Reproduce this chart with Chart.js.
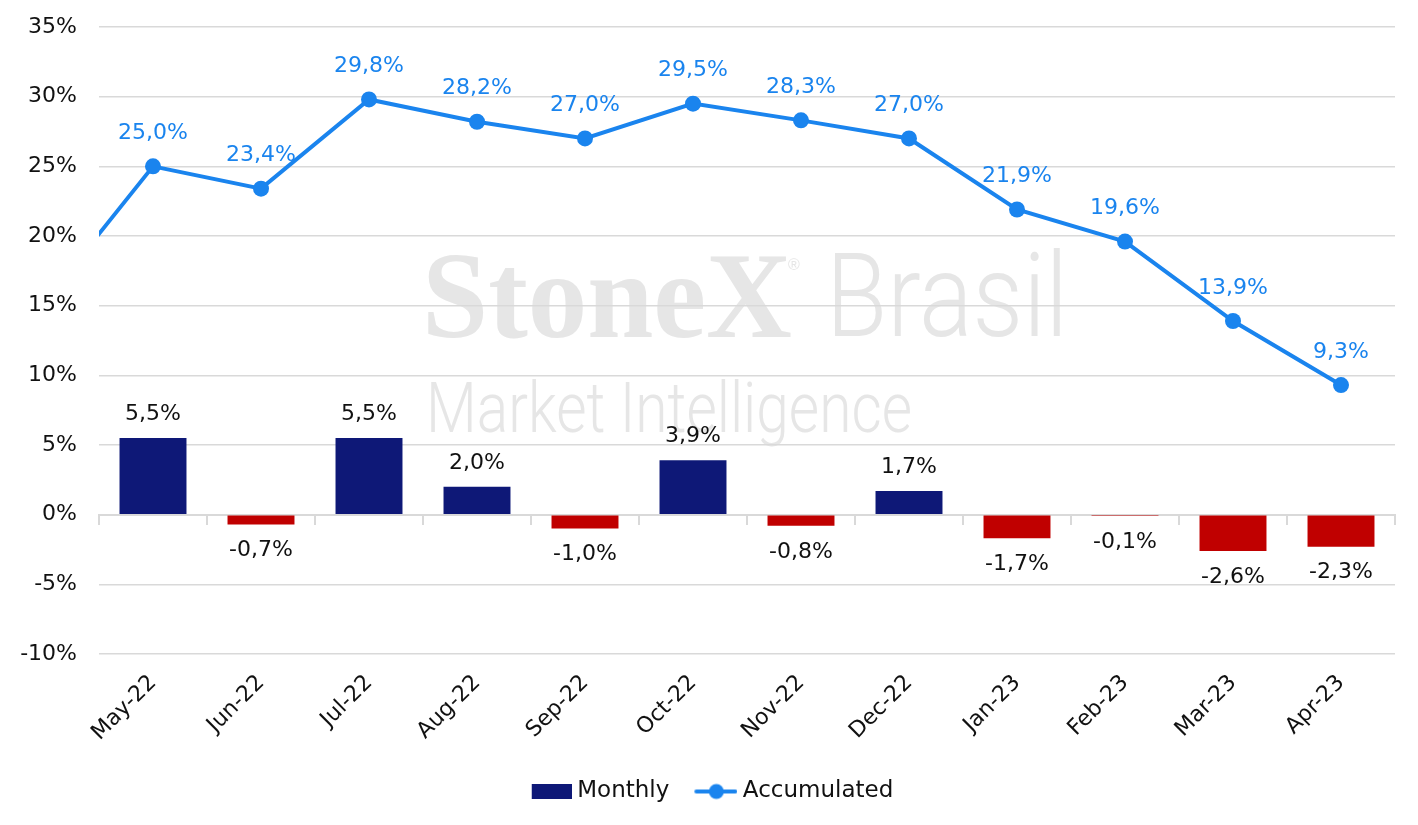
<!DOCTYPE html>
<html><head><meta charset="utf-8">
<script src="https://cdn.jsdelivr.net/npm/chart.js@4.4.0/dist/chart.umd.min.js"></script>
<style>html,body{margin:0;padding:0;background:#fff;} #wrap{width:1418px;height:825px;}</style>
</head><body><div id="wrap"><canvas id="c" width="1418" height="825"></canvas></div>
<script>
// Data (first category is the previous month, only partly visible at the left edge)
const categories = ['Apr-22','May-22','Jun-22','Jul-22','Aug-22','Sep-22','Oct-22','Nov-22','Dec-22','Jan-23','Feb-23','Mar-23','Apr-23'];
const monthly = [null, 5.5, -0.7, 5.5, 2.0, -1.0, 3.9, -0.8, 1.7, -1.7, -0.1, -2.6, -2.3];
const accumulated = [15.3, 25.0, 23.4, 29.8, 28.2, 27.0, 29.5, 28.3, 27.0, 21.9, 19.6, 13.9, 9.3];
const yMin = -10, yMax = 35, yStep = 5;
const seriesNames = ['Monthly', 'Accumulated'];

const NAVY = '#0E1877', RED = '#C00000', BLUE = '#1A84EE', GRID = '#D9D9D9';
const FONT = '"DejaVu Sans"';

const fmt = v => v.toFixed(1).replace('.', ',') + '%';

function boxImg() {
  const c = document.createElement('canvas'); c.width = 64; c.height = 15;
  const g = c.getContext('2d'); g.fillStyle = NAVY; g.fillRect(24, 0, 40, 15); return c;
}
function lineImg() {
  const c = document.createElement('canvas'); c.width = 64; c.height = 18;
  const g = c.getContext('2d');
  g.strokeStyle = BLUE; g.lineWidth = 4; g.lineCap = 'round';
  g.beginPath(); g.moveTo(23, 9); g.lineTo(62, 9); g.stroke();
  g.fillStyle = BLUE; g.beginPath(); g.arc(43, 9, 7.5, 0, Math.PI * 2); g.fill();
  return c;
}

const watermark = {
  id: 'watermark',
  beforeDraw(chart) {
    const ctx = chart.ctx;
    ctx.save();
    ctx.fillStyle = '#E6E6E6';
    ctx.textBaseline = 'alphabetic';
    ctx.textAlign = 'left';
    ctx.font = 'bold 122px "Liberation Serif"';
    ctx.fillText('StoneX', 422, 337, 370);
    ctx.font = '16px "Liberation Sans"';
    ctx.fillText('®', 788, 270);
    ctx.font = '300 116px Roboto';
    ctx.fillText('Brasil', 826, 336, 242);
    ctx.font = '300 70px Roboto';
    ctx.fillText('Market Intelligence', 426, 432, 486);
    ctx.restore();
  }
};

const legendShift = {
  id: 'legendShift',
  afterLayout(chart) {
    if (chart.legend) { chart.legend.left += 6; chart.legend.right += 6; }
  }
};

const valueLabels = {
  id: 'valueLabels',
  afterDatasetsDraw(chart) {
    const ctx = chart.ctx;
    const area = chart.chartArea;
    ctx.save();
    ctx.font = '22px ' + FONT;
    ctx.textAlign = 'center';
    ctx.textBaseline = 'middle';
    chart.data.datasets.forEach((ds, di) => {
      const meta = chart.getDatasetMeta(di);
      meta.data.forEach((el, i) => {
        const v = ds.data[i];
        if (v === null || el.x < area.left) return;
        if (ds.type === 'line') {
          ctx.fillStyle = BLUE;
          ctx.fillText(fmt(v), el.x, el.y - 33);
        } else {
          ctx.fillStyle = '#111';
          ctx.fillText(fmt(v), el.x, v >= 0 ? el.y - 24 : el.y + 26);
        }
      });
    });
    ctx.restore();
  }
};

new Chart(document.getElementById('c'), {
  data: {
    labels: categories,
    datasets: [
      {
        type: 'line', label: seriesNames[1], data: accumulated, order: 0,
        borderColor: BLUE, backgroundColor: BLUE, borderWidth: 4,
        pointRadius: 8, pointHoverRadius: 8, pointBackgroundColor: BLUE, pointBorderWidth: 0,
        tension: 0
      },
      {
        type: 'bar', label: seriesNames[0], data: monthly, order: 1,
        backgroundColor: monthly.map(v => (v !== null && v < 0) ? RED : NAVY),
        categoryPercentage: 1, barPercentage: 0.62
      }
    ]
  },
  options: {
    responsive: false, animation: false, devicePixelRatio: 1,
    layout: { padding: { top: 27, right: 23, left: 0, bottom: 12 } },
    scales: {
      x: {
        type: 'category', min: 'May-22', offset: true,
        grid: { display: false, offset: true },
        border: { display: false },
        ticks: { minRotation: 45, maxRotation: 45, color: '#111', font: { family: FONT, size: 22 }, padding: 8, autoSkip: false },
        afterFit: s => { s.height = 116; s.paddingLeft = 0; s.paddingRight = 0; }
      },
      x0: {
        type: 'category', min: 'May-22', offset: true, position: { y: 0 },
        ticks: { display: false },
        grid: { display: true, offset: true, drawOnChartArea: false, drawTicks: true, tickLength: 9, color: GRID, lineWidth: 2 },
        border: { display: true, color: GRID, width: 2 }
      },
      y: {
        min: yMin, max: yMax,
        ticks: { stepSize: yStep, color: '#111', font: { family: FONT, size: 22 }, padding: 22, callback: v => v + '%' },
        grid: { color: GRID, lineWidth: 1.5, drawTicks: false },
        border: { display: false },
        afterFit: s => { s.width = 99; s.paddingTop = 0; s.paddingBottom = 0; }
      }
    },
    plugins: {
      tooltip: { enabled: false },
      legend: {
        position: 'bottom',
        labels: {
          usePointStyle: true, pointStyleWidth: 52, padding: 10,
          color: '#111', font: { family: FONT, size: 23 },
          generateLabels: () => [
            { text: seriesNames[0], pointStyle: boxImg(), fillStyle: NAVY, strokeStyle: NAVY, lineWidth: 0, datasetIndex: 1, fontColor: '#111' },
            { text: seriesNames[1], pointStyle: lineImg(), fillStyle: BLUE, strokeStyle: BLUE, lineWidth: 0, datasetIndex: 0, fontColor: '#111' }
          ]
        }
      }
    }
  },
  plugins: [watermark, valueLabels, legendShift]
});
</script>
</body></html>
